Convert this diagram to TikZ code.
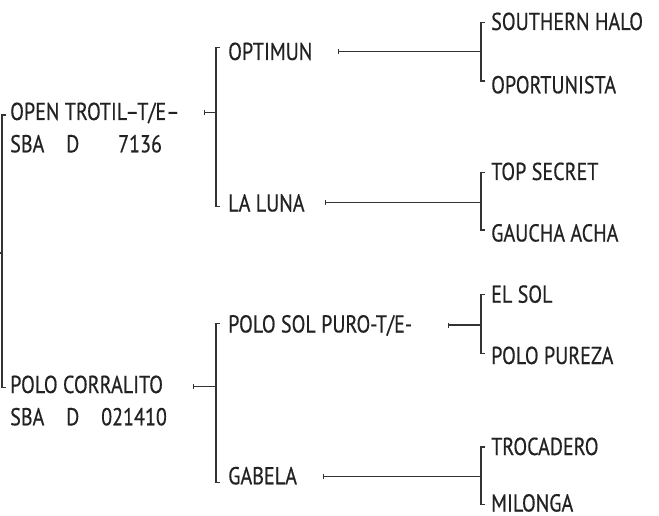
\documentclass[tikz,border=0pt]{standalone}
\usepackage{fontspec}
\setmainfont[FakeStretch=0.82,FakeBold=0.5]{PT Sans}
\usetikzlibrary{arrows.meta}
\definecolor{ink}{HTML}{222222}
\definecolor{wire}{HTML}{333333}
\tikzset{
  horse/.style={anchor=base west, inner sep=0pt, text=ink, font=\fontsize{24.5}{32.3}\selectfont},
  duo/.style={anchor=base west, inner sep=0pt, text=ink, align=left, font=\fontsize{24.5}{32.3}\selectfont},
  link/.style={draw=wire, line width=1.2pt, {Bar[width=5pt,line width=1pt]}-},
  brack/.style={draw=wire, line width=1.2pt},
}
\begin{document}
\begin{tikzpicture}[x=1pt,y=-1pt]
\useasboundingbox (0,0) rectangle (659,516);
% generation 1 (base anchor = baseline of the last line)
\node[duo] (open) at (10,152.3) {OPEN TROTIL–T/E–\\\makebox[56pt][l]{SBA}\makebox[52pt][l]{D}7136};
\node[duo] (polo) at (10,425.3) {POLO CORRALITO\\\makebox[56pt][l]{SBA}\makebox[35pt][l]{D}021410};
% generation 2
\node[horse] (optimun) at (228,60) {OPTIMUN};
\node[horse] (luna) at (228,211.5) {LA LUNA};
\node[horse] (polosol) at (228,332.5) {POLO SOL PURO-T/E-};
\node[horse] (gabela) at (228,484.3) {GABELA};
% generation 3
\node[horse] (southern) at (491,30) {SOUTHERN HALO};
\node[horse] (oport) at (491,93.3) {OPORTUNISTA};
\node[horse] (topsecret) at (491,180) {TOP SECRET};
\node[horse] (gaucha) at (491,241.5) {GAUCHA ACHA};
\node[horse] (elsol) at (491,302.7) {EL SOL};
\node[horse] (pureza) at (491,364) {POLO PUREZA};
\node[horse] (trocadero) at (491,455) {TROCADERO};
\node[horse] (milonga) at (491,511.5) {MILONGA};
% root bracket
\coordinate (rtop) at (2,115);
\coordinate (rbot) at (2,387.7);
\draw[brack] ([xshift=4pt]rtop) -- (rtop) -- (rbot) -- ([xshift=4pt]rbot);
\draw[brack] (2,253) -- (0,253);
% bracket for OPEN TROTIL
\coordinate (t1) at (204,112.7);
\coordinate (b1) at (216,112.7);
\draw[link] (t1) -- (b1);
\draw[brack] (220,47.7) -- (216,47.7) -- (216,206.7) -- (220,206.7);
% bracket for POLO CORRALITO
\coordinate (t2) at (193.3,386.7);
\coordinate (b2) at (216,386.7);
\draw[link] (t2) -- (b2);
\draw[brack] (220,323.7) -- (216,323.7) -- (216,482.7) -- (220,482.7);
% OPTIMUN
\coordinate (t3) at (338,51.7);
\coordinate (b3) at (481,51.7);
\draw[link] (t3) -- (b3);
\draw[brack] (485,22.7) -- (481,22.7) -- (481,81) -- (485,81);
% LA LUNA
\coordinate (t4) at (325,202.3);
\coordinate (b4) at (481,202.3);
\draw[link] (t4) -- (b4);
\draw[brack] (485,172.3) -- (481,172.3) -- (481,230) -- (485,230);
% POLO SOL
\coordinate (t5) at (448.3,325);
\coordinate (b5) at (481,325);
\draw[link] (t5) -- (b5);
\draw[brack] (485,294.3) -- (481,294.3) -- (481,353.7) -- (485,353.7);
% GABELA
\coordinate (t6) at (323,476.7);
\coordinate (b6) at (481,476.7);
\draw[link] (t6) -- (b6);
\draw[brack] (485,447) -- (481,447) -- (481,504.3) -- (485,504.3);
\end{tikzpicture}
\end{document}
